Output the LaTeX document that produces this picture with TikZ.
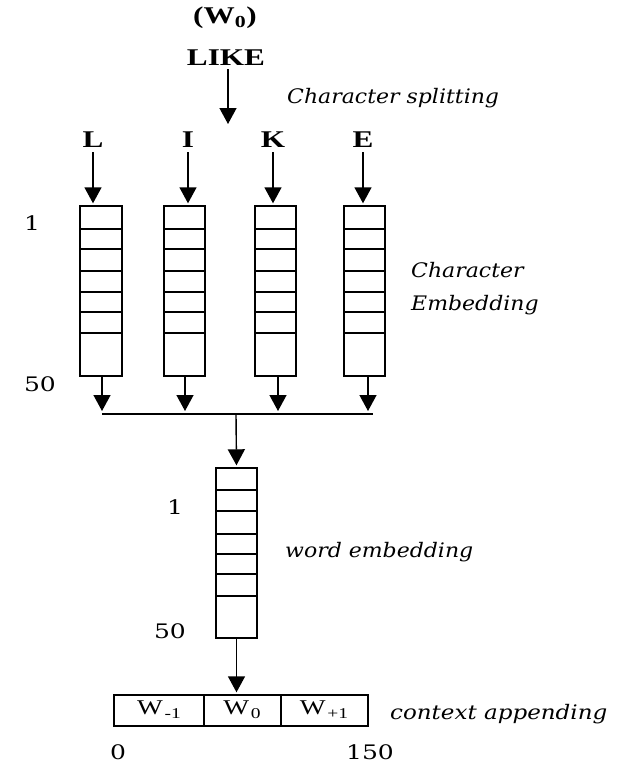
\documentclass[tikz,border=0pt]{standalone}
\usepackage{fontspec}
\usepackage{graphicx}
\setmainfont{Liberation Serif}
\newfontfamily\labelfont{DejaVu Serif}
\newcommand\stretchtext[2]{\scalebox{#1}[1]{#2}}
\newcommand\lowidx[1]{\kern1.5pt\raisebox{-4pt}{\fontsize{15}{17}\selectfont #1}}
\usetikzlibrary{arrows.meta}
\tikzset{
  vec/.style={draw, line width=1.4pt},
  cell/.style={line width=1.1pt},
  flow/.style={line width=1.4pt, -{Triangle[length=16pt,width=17pt]}, shorten >=2pt},
  plain/.style={line width=1.3pt},
  big/.style={font=\fontsize{24}{28}\selectfont\bfseries, inner sep=0pt},
  note/.style={font=\labelfont\itshape\fontsize{20}{24}\selectfont, inner sep=0pt, anchor=west},
  num/.style={font=\labelfont\fontsize{20}{22}\selectfont, inner sep=0pt},
  slot/.style={font=\fontsize{21}{24}\selectfont, inner sep=0pt},
}
\begin{document}
\begin{tikzpicture}[x=1pt, y=-1pt]
\useasboundingbox (0,0) rectangle (625,763);

% input word
\node[big] (w0) at (225,18) {\stretchtext{1.3}{(W\textsubscript{0})}};
\node[big] (like) at (226,58) {\stretchtext{1.3}{LIKE}};
\coordinate (splitend) at (228,126);
\draw[flow] (like.south -| splitend) ++(0,3) -- (splitend);
\node[note] (split) at (287,98) {\stretchtext{1.1}{Character splitting}};

% characters
\node[big] (chL) at (93,140) {\stretchtext{1.3}{L}};
\node[big] (chI) at (188,140) {\stretchtext{1.3}{I}};
\node[big] (chK) at (273,140) {\stretchtext{1.3}{K}};
\node[big] (chE) at (363,140) {\stretchtext{1.3}{E}};

% character embedding vectors
\foreach \nm/\xl/\xr/\ch in {1/80/122/L, 2/164/205/I, 3/255/296/K, 4/344/385/E}{
  \node[vec, minimum width=\xr-\xl, minimum height=170, inner sep=0pt] (v\nm) at ({(\xl+\xr)/2},291) {};
  \foreach \yy in {229,249,271,292,312,333}{
    \draw[cell] (\xl,\yy) -- (\xr,\yy);
  }
  \draw[flow] ([yshift=-4pt]ch\ch.south) -- (ch\ch.south |- v\nm.north);
}
\node[note] (ce1) at (411,270) {\stretchtext{1.1}{Character}};
\node[note] (ce2) at (411,305) {\stretchtext{1.1}{Embedding}};
\node[num] (one1) at (32,223) {\stretchtext{1.25}{1}};
\node[num] (fifty1) at (40,384) {\stretchtext{1.25}{50}};

% merge into the word vector
\coordinate (m1) at (102,414);
\coordinate (m2) at (373,414);
\coordinate (mid) at (236,414);
\foreach \nm/\x in {1/102, 2/185, 3/278, 4/368}{
  \coordinate (t\nm) at (\x,413);
  \draw[flow] (v\nm.south -| t\nm) -- (t\nm);
}
\draw[plain] (m1) -- (m2);

\node[vec, minimum width=41, minimum height=170, inner sep=0pt] (wv) at (236.5,553) {};
\foreach \yy in {490,511,534,554,574,596}{
  \draw[cell] (216,\yy) -- (257,\yy);
}
\draw[flow] (mid) -- (wv.north);
\node[num] (one2) at (175,507) {\stretchtext{1.25}{1}};
\node[num] (fifty2) at (170,631) {\stretchtext{1.25}{50}};
\node[note] (we) at (285,552) {\stretchtext{1.1}{word embedding}};

% context window
\node[vec, minimum width=254, minimum height=31, inner sep=0pt] (ctx) at (241,710.5) {};
\draw[cell] (204,695) -- (204,726);
\draw[cell] (281,695) -- (281,726);
\node[slot] (wm) at (159,710) {\stretchtext{1.3}{W\lowidx{-1}}};
\node[slot] (wz) at (242,710) {\stretchtext{1.3}{W\lowidx{0}}};
\node[slot] (wp) at (324,710) {\stretchtext{1.3}{W\lowidx{+1}}};
\draw[flow] (wv.south) -- (ctx.north -| wv.south);
\node[note] (ca) at (390,714) {\stretchtext{1.15}{context appending}};
\node[num] (zero) at (118,752) {\stretchtext{1.25}{0}};
\node[num] (end) at (370,752) {\stretchtext{1.25}{150}};
\end{tikzpicture}
\end{document}
